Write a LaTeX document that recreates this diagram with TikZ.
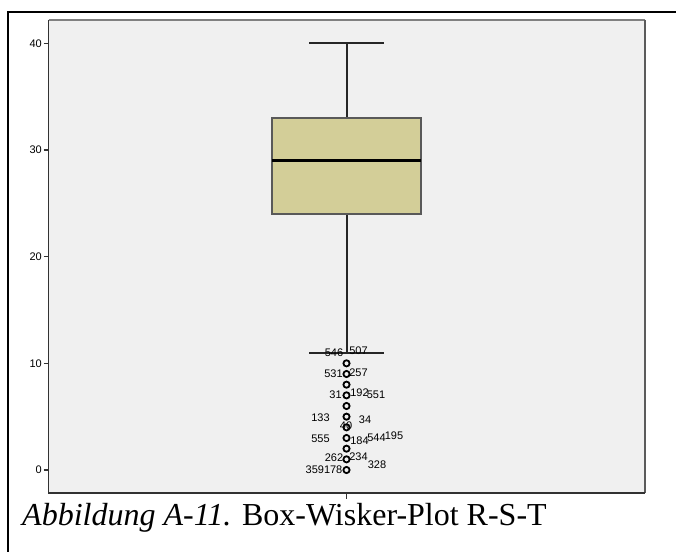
\documentclass[tikz,border=0pt]{standalone}
\usepackage{fontspec}
\setmainfont{Liberation Serif}
\newfontfamily\arialf{Liberation Sans}
\definecolor{plotbg}{RGB}{240,240,240}
\definecolor{boxfill}{RGB}{211,206,152}
\definecolor{framedark}{RGB}{50,50,50}
\definecolor{framelight}{RGB}{128,128,128}
\tikzset{
  lbl/.style={font=\arialf\fontsize{11}{12}\selectfont, inner sep=0pt, text=black},
  ticklbl/.style={font=\arialf\fontsize{11}{12}\selectfont, inner sep=0pt, anchor=east, text=black},
  outlier/.style={draw=black, line width=1.8pt, fill=none},
  whisk/.style={draw=black!85, line width=2pt},
}
\begin{document}
\begin{tikzpicture}[x=1pt,y=-1pt]
\useasboundingbox (0,0) rectangle (676,551);
% outer frame
\draw[line width=2.2pt, black] (8,552) -- (8,12) -- (677,12);
% plot area
\fill[plotbg] (48.7,20) rectangle (645,493);
\draw[framelight, line width=1.5pt] (48.7,20) -- (645,20);
\draw[framedark!80, line width=1.5pt] (645,20) -- (645,493);
\draw[framedark, line width=1.5pt] (48.7,20) -- (48.7,493) -- (645,493);
% y ticks
\foreach \v in {0,10,20,30,40} {
  \draw[framedark, line width=1.4pt] (43.5,{470-10.667*\v}) -- (48.7,{470-10.667*\v});
  \node[ticklbl] (t\v) at (42,{470-10.667*\v}) {\v};
}
% x tick
\draw[framedark, line width=1.4pt] (346.5,493) -- (346.5,498.5);
% whiskers
\coordinate (wtop) at (346.5,{470-10.667*40});
\coordinate (wbot) at (346.5,{470-10.667*11});
\coordinate (q3) at (346.5,{470-10.667*33});
\coordinate (q1) at (346.5,{470-10.667*24});
\draw[whisk] (q3) -- (wtop);
\draw[whisk] (q1) -- (wbot);
\draw[whisk] (309,{470-10.667*40}) -- (384,{470-10.667*40});
\draw[whisk] (309,{470-10.667*11}) -- (384,{470-10.667*11});
% box
\node[draw=black!65, line width=1.8pt, fill=boxfill, minimum width=149pt, minimum height=95.5pt, inner sep=0pt] (box) at (346.5,{470-10.667*28.5}) {};
\draw[black, line width=3pt] (272,{470-10.667*29}) -- (421,{470-10.667*29});
% outliers
\foreach \v in {0,1,...,10} {
  \draw[outlier] (346.5,{470-10.667*\v}) circle (3.1pt);
}
% outlier labels
\node[lbl] (l546) at (334,353) {546};
\node[lbl] (l507) at (358.5,350.7) {507};
\node[lbl] (l531) at (333.5,373.3) {531};
\node[lbl] (l257) at (358.5,373) {257};
\node[lbl] (l31) at (335.5,394.3) {31};
\node[lbl] (l192) at (359.5,392.7) {192};
\node[lbl] (l551) at (376,395) {551};
\node[lbl] (l133) at (320.5,417.3) {133};
\node[lbl] (l34) at (365,420) {34};
\node[lbl] (l40) at (346,426) {40};
\node[lbl] (l555) at (320.5,438.3) {555};
\node[lbl] (l184) at (359.5,441) {184};
\node[lbl] (l544) at (376.5,437.3) {544};
\node[lbl] (l195) at (394,436) {195};
\node[lbl] (l262) at (334,457.3) {262};
\node[lbl] (l234) at (358.5,456.7) {234};
\node[lbl] (l328) at (377,465) {328};
\node[lbl] (l359) at (324,470) {359178};
% caption
\node[anchor=base west, inner sep=0pt, font=\fontsize{32}{36}\selectfont] (cap) at (22,525.7) {\textit{Abbildung A-11.} Box-Wisker-Plot R-S-T};
\end{tikzpicture}
\end{document}
